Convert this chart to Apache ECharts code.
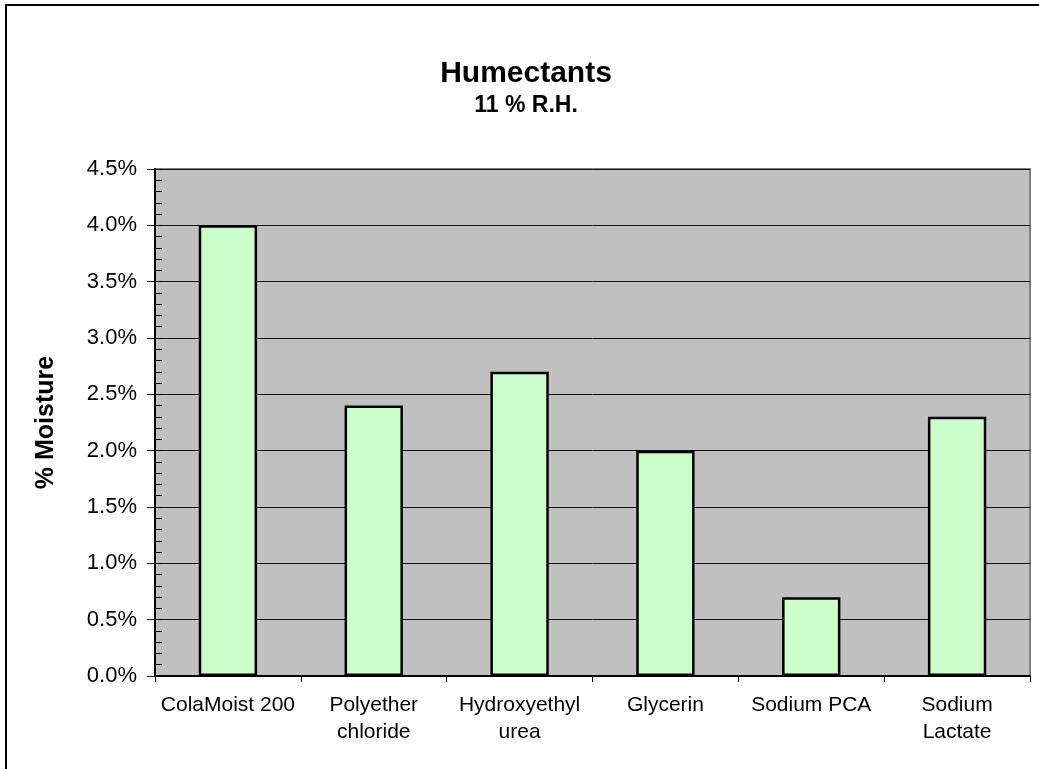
<!DOCTYPE html>
<html>
<head>
<meta charset="utf-8">
<title>Humectants</title>
<script src="https://cdn.jsdelivr.net/npm/echarts@6/dist/echarts.min.js"></script>
<style>
    html, body { margin: 0; padding: 0; background: #fff; }
    #chart { width: 1039px; height: 769px; }
</style>
</head>
<body>
<div id="chart"></div>
<script>
// categories and moisture pick-up (% moisture at 11 % R.H.)
var categories = ['ColaMoist 200', 'Polyether\nchloride', 'Hydroxyethyl\nurea', 'Glycerin', 'Sodium PCA', 'Sodium\nLactate'];
var moisture = [4.0, 2.4, 2.7, 2.0, 0.7, 2.3];

var yMin = 0;
var yMax = 4.5;
var yStep = 0.5;
var yMinorStep = 0.1;

var fontName = '"Liberation Sans", Arial, sans-serif';

var myChart = echarts.init(document.getElementById('chart'));

var option = {
    backgroundColor: '#fff',
    animation: false,
    title: {
        text: 'Humectants',
        subtext: '11 % R.H.',
        left: 521,
        textAlign: 'center',
        top: 54,
        itemGap: 5,
        textStyle: { fontFamily: fontName, fontSize: 30, fontWeight: 'bold', color: '#000' },
        subtextStyle: { fontFamily: fontName, fontSize: 23, fontWeight: 'bold', color: '#000' }
    },
    graphic: [{
        type: 'rect',
        shape: { x: 6, y: 5, width: 1100, height: 1000 },
        style: { fill: 'none', stroke: '#000', lineWidth: 2 },
        silent: true
    }],
    grid: {
        left: 155,
        top: 169,
        right: 9,
        bottom: 93,
        show: true,
        backgroundColor: '#C0C0C0',
        borderColor: '#808080',
        borderWidth: 2
    },
    xAxis: {
        type: 'category',
        data: categories,
        axisLine: { lineStyle: { color: '#000', width: 2 } },
        axisTick: { show: true, length: 6, lineStyle: { color: '#000', width: 1 } },
        axisLabel: {
            fontFamily: fontName,
            fontSize: 21,
            color: '#000',
            margin: 16,
            lineHeight: 27,
            interval: 0
        }
    },
    yAxis: [{
        type: 'value',
        min: yMin,
        max: yMax,
        interval: yStep,
        name: '% Moisture',
        nameLocation: 'middle',
        nameRotate: 90,
        nameGap: 96,
        nameTextStyle: { fontFamily: fontName, fontSize: 25, fontWeight: 'bold', color: '#000' },
        axisLine: { show: true, lineStyle: { color: '#000', width: 2 } },
        axisTick: { show: true, length: 8, lineStyle: { color: '#000' } },
        axisLabel: {
            fontFamily: fontName,
            fontSize: 22,
            color: '#000',
            margin: 18,
            formatter: function(v) { return v.toFixed(1) + '%'; }
        },
        splitLine: { show: true, lineStyle: { color: '#111', width: 1 } }
    }, {
        // minor ticks drawn inside the plot
        type: 'value',
        position: 'left',
        min: yMin,
        max: yMax,
        interval: yMinorStep,
        axisLine: { show: false },
        axisTick: { show: true, inside: true, length: 7, lineStyle: { color: '#000' } },
        axisLabel: { show: false },
        splitLine: { show: false }
    }],
    series: [{
        type: 'bar',
        data: moisture,
        barWidth: '40%',
        itemStyle: { color: '#CCFFCC', borderColor: '#000', borderWidth: 2.5 }
    }]
};

myChart.setOption(option);
</script>
</body>
</html>
